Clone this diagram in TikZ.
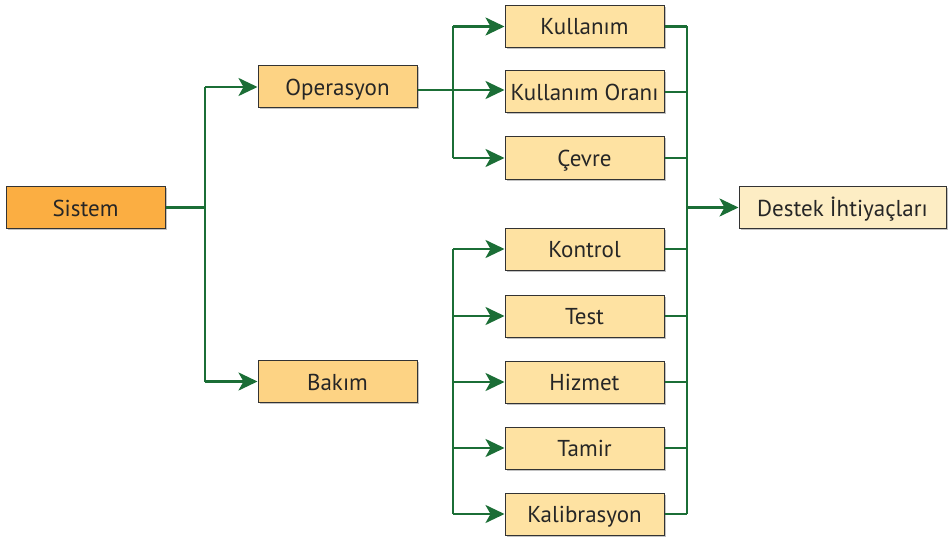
\documentclass[tikz,border=0pt]{standalone}
\usepackage{fontspec}
\setmainfont{PT Sans}
\usetikzlibrary{arrows.meta,shadows}
\definecolor{linkgreen}{HTML}{1B6E36}
\definecolor{rootfill}{HTML}{FBAE42}
\definecolor{midfill}{HTML}{FDD384}
\definecolor{leaffill}{HTML}{FEE2A2}
\definecolor{goalfill}{HTML}{FDEDC4}
\definecolor{boxline}{HTML}{333333}
\tikzset{
  box/.style={draw=boxline, line width=1pt, minimum width=159pt, minimum height=42pt,
    inner sep=0pt, font=\fontsize{23}{26}\selectfont, text=black!85,
    text height=17pt, text depth=0pt,
    drop shadow={shadow xshift=1.5pt, shadow yshift=-1.5pt, opacity=0.4, fill=black!60}},
  link/.style={draw=linkgreen, line width=2.6pt},
  arr/.style={link, -{Stealth[length=19pt,width=18pt,inset=5pt]}},
}
\begin{document}
\begin{tikzpicture}[x=1pt,y=-1pt]
\useasboundingbox (0,0) rectangle (949,540);
% first column
\node[box, fill=rootfill] (sis) at (85.5,207.5) {Sistem};
% second column
\node[box, fill=midfill] (ops) at (337.5,87) {Operasyon};
\node[box, fill=midfill] (bak) at (337.5,381.5) {Bakım};
% third column
\node[box, fill=leaffill] (kul) at (584.5,26.5) {Kullanım};
\node[box, fill=leaffill] (oran) at (584.5,92) {Kullanım Oranı};
\node[box, fill=leaffill] (cev) at (584.5,158) {Çevre};
\node[box, fill=leaffill] (kon) at (584.5,249) {Kontrol};
\node[box, fill=leaffill] (tes) at (584.5,316) {Test};
\node[box, fill=leaffill] (hiz) at (584.5,382) {Hizmet};
\node[box, fill=leaffill] (tam) at (584.5,448) {Tamir};
\node[box, fill=leaffill] (kal) at (584.5,514) {Kalibrasyon};
% result
\node[box, fill=goalfill, minimum width=207pt] (des) at (842.5,207.5) {Destek İhtiyaçları};

% Sistem -> Operasyon / Bakım
\coordinate (j1) at (205,0);
\draw[link] (sis.east) -- (sis.east -| j1);
\draw[link] (j1 |- ops) -- (j1 |- bak);
\draw[arr] (j1 |- ops) -- (ops.west);
\draw[arr] (j1 |- bak) -- (bak.west);

% Operasyon branch
\coordinate (j2) at (453,0);
\coordinate (mid) at (0,90);
\draw[link] (j2 |- kul) -- (j2 |- cev);
\draw[arr] (ops.east |- mid) -- (oran.west |- mid);
\draw[arr] (j2 |- kul) -- (kul.west);
\draw[arr] (j2 |- cev) -- (cev.west);

% Bakım branch
\draw[link] (j2 |- kon) -- (j2 |- kal);
\foreach \n in {kon,tes,hiz,tam,kal}
  \draw[arr] (j2 |- \n) -- (\n.west);

% collector towards Destek
\coordinate (j3) at (687,0);
\draw[link] (j3 |- kul) -- (j3 |- kal);
\foreach \n in {kul,oran,cev,kon,tes,hiz,tam,kal}
  \draw[link] (\n.east) -- (\n.east -| j3);
\draw[arr] (j3 |- des) -- (des.west);
\end{tikzpicture}
\end{document}
